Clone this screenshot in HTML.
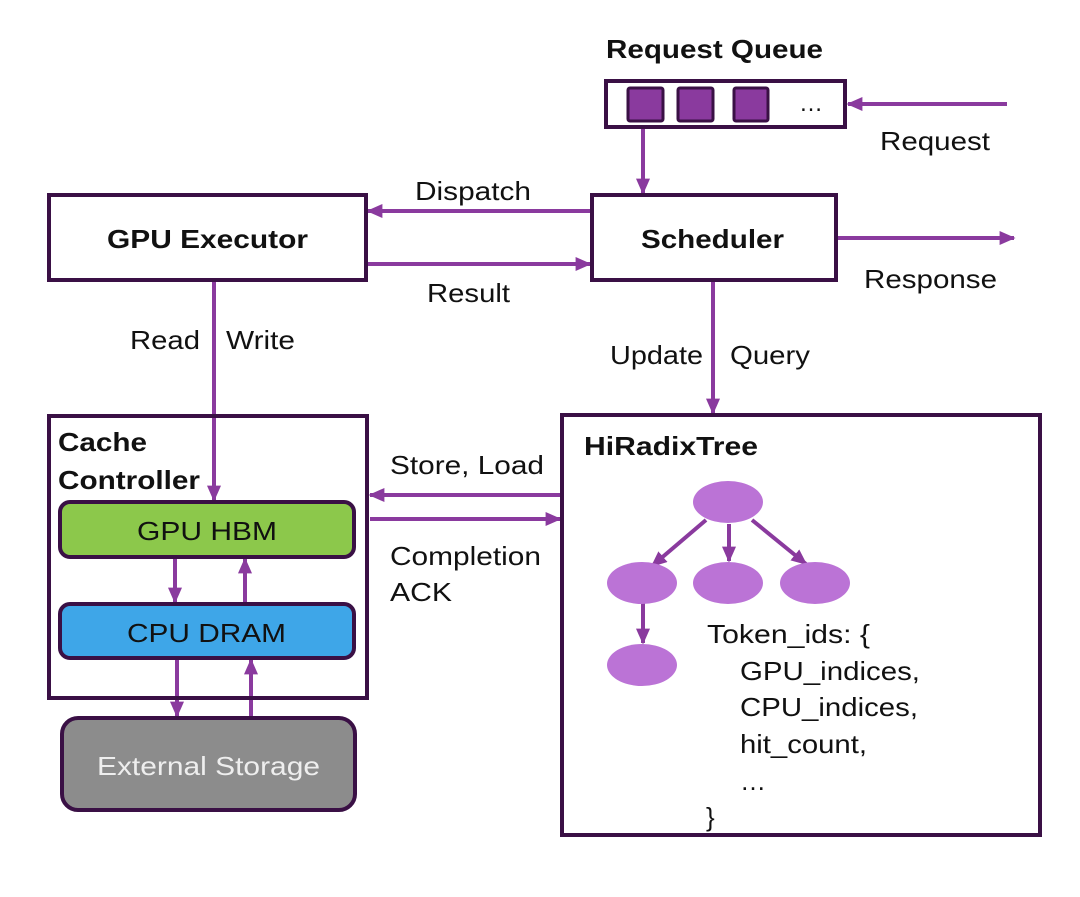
<!DOCTYPE html>
<html><head><meta charset="utf-8"><style>
html,body{margin:0;padding:0;background:#fff;}
svg{display:block;}
text{font-family:"Liberation Sans",Arial,sans-serif;fill:#111;}
.b{font-weight:bold;}
</style></head><body>
<svg width="1080" height="897" viewBox="0 0 1080 897" xmlns="http://www.w3.org/2000/svg">
<defs>
<marker id="h" viewBox="0 0 10 10" refX="9" refY="5" markerWidth="16" markerHeight="14" orient="auto" markerUnits="userSpaceOnUse" preserveAspectRatio="none">
<path d="M0,0 L10,5 L0,10 Z" fill="#8a3a9e"/>
</marker>
</defs>
<g stroke="#8a3a9e" stroke-width="4" fill="none" marker-end="url(#h)">
<line x1="1007" y1="104" x2="848" y2="104"/>
<line x1="643" y1="127" x2="643" y2="193"/>
<line x1="592" y1="211" x2="368" y2="211"/>
<line x1="368" y1="264" x2="590" y2="264"/>
<line x1="836" y1="238" x2="1014" y2="238"/>
<line x1="713" y1="280" x2="713" y2="413"/>
<line x1="214" y1="280" x2="214" y2="500"/>
<line x1="562" y1="495" x2="370" y2="495"/>
<line x1="370" y1="519" x2="560" y2="519"/>
<line x1="175" y1="557" x2="175" y2="602"/>
<line x1="245" y1="604" x2="245" y2="559"/>
<line x1="177" y1="658" x2="177" y2="716"/>
<line x1="251" y1="718" x2="251" y2="660"/>
<line x1="706" y1="520" x2="652" y2="566"/>
<line x1="729" y1="524" x2="729" y2="561"/>
<line x1="752" y1="520" x2="806" y2="564"/>
<line x1="643" y1="603" x2="643" y2="643"/>
</g>
<g stroke="#3a1045" stroke-width="4" fill="#fff">
<rect x="606" y="81" width="239" height="46"/>
<rect x="49" y="195" width="317" height="85"/>
<rect x="592" y="195" width="244" height="85"/>
<rect x="49" y="416" width="318" height="282" fill="none"/>
<rect x="562" y="415" width="478" height="420" fill="none"/>
</g>
<g fill="#8a3a9e" stroke="#3a1045" stroke-width="3">
<rect x="628" y="88" width="35" height="33" rx="2"/>
<rect x="678" y="88" width="35" height="33" rx="2"/>
<rect x="734" y="88" width="34" height="33" rx="2"/>
</g>
<text x="799" y="111" font-size="24">…</text>
<rect x="60" y="502" width="294" height="55" rx="10" fill="#8cc84b" stroke="#3a1045" stroke-width="4"/>
<rect x="60" y="604" width="294" height="54" rx="10" fill="#3ea6e8" stroke="#3a1045" stroke-width="4"/>
<rect x="62" y="718" width="293" height="92" rx="16" fill="#8c8c8c" stroke="#3a1045" stroke-width="4"/>
<g fill="#bb73d6">
<ellipse cx="728" cy="502" rx="35" ry="21"/>
<ellipse cx="642" cy="583" rx="35" ry="21"/>
<ellipse cx="728" cy="583" rx="35" ry="21"/>
<ellipse cx="815" cy="583" rx="35" ry="21"/>
<ellipse cx="642" cy="665" rx="35" ry="21"/>
</g>
<g font-size="26" lengthAdjust="spacingAndGlyphs">
<text x="606" y="58" class="b" textLength="217" lengthAdjust="spacingAndGlyphs">Request Queue</text>
<text x="880" y="150" textLength="110" lengthAdjust="spacingAndGlyphs">Request</text>
<text x="107" y="248" class="b" textLength="201" lengthAdjust="spacingAndGlyphs">GPU Executor</text>
<text x="641" y="248" class="b" textLength="143" lengthAdjust="spacingAndGlyphs">Scheduler</text>
<text x="415" y="200" textLength="116" lengthAdjust="spacingAndGlyphs">Dispatch</text>
<text x="427" y="302" textLength="83" lengthAdjust="spacingAndGlyphs">Result</text>
<text x="864" y="288" textLength="133" lengthAdjust="spacingAndGlyphs">Response</text>
<text x="130" y="349" textLength="70" lengthAdjust="spacingAndGlyphs">Read</text>
<text x="226" y="349" textLength="69" lengthAdjust="spacingAndGlyphs">Write</text>
<text x="610" y="364" textLength="93" lengthAdjust="spacingAndGlyphs">Update</text>
<text x="730" y="364" textLength="80" lengthAdjust="spacingAndGlyphs">Query</text>
<text x="58" y="451" class="b" textLength="89" lengthAdjust="spacingAndGlyphs">Cache</text>
<text x="58" y="489" class="b" textLength="142" lengthAdjust="spacingAndGlyphs">Controller</text>
<text x="137" y="540" textLength="140" lengthAdjust="spacingAndGlyphs">GPU HBM</text>
<text x="127" y="642" textLength="159" lengthAdjust="spacingAndGlyphs">CPU DRAM</text>
<text x="97" y="775" textLength="223" lengthAdjust="spacingAndGlyphs" style="fill:#eee">External Storage</text>
<text x="390" y="474" textLength="154" lengthAdjust="spacingAndGlyphs">Store, Load</text>
<text x="390" y="565" textLength="151" lengthAdjust="spacingAndGlyphs">Completion</text>
<text x="390" y="601" textLength="62" lengthAdjust="spacingAndGlyphs">ACK</text>
<text x="584" y="455" class="b" textLength="174" lengthAdjust="spacingAndGlyphs">HiRadixTree</text>
<text x="707" y="643" textLength="163" lengthAdjust="spacingAndGlyphs">Token_ids: {</text>
<text x="740" y="680" textLength="180" lengthAdjust="spacingAndGlyphs">GPU_indices,</text>
<text x="740" y="716" textLength="178" lengthAdjust="spacingAndGlyphs">CPU_indices,</text>
<text x="740" y="753" textLength="127" lengthAdjust="spacingAndGlyphs">hit_count,</text>
<text x="740" y="790">…</text>
<text x="706" y="826">}</text>
</g>
</svg>
</body></html>
